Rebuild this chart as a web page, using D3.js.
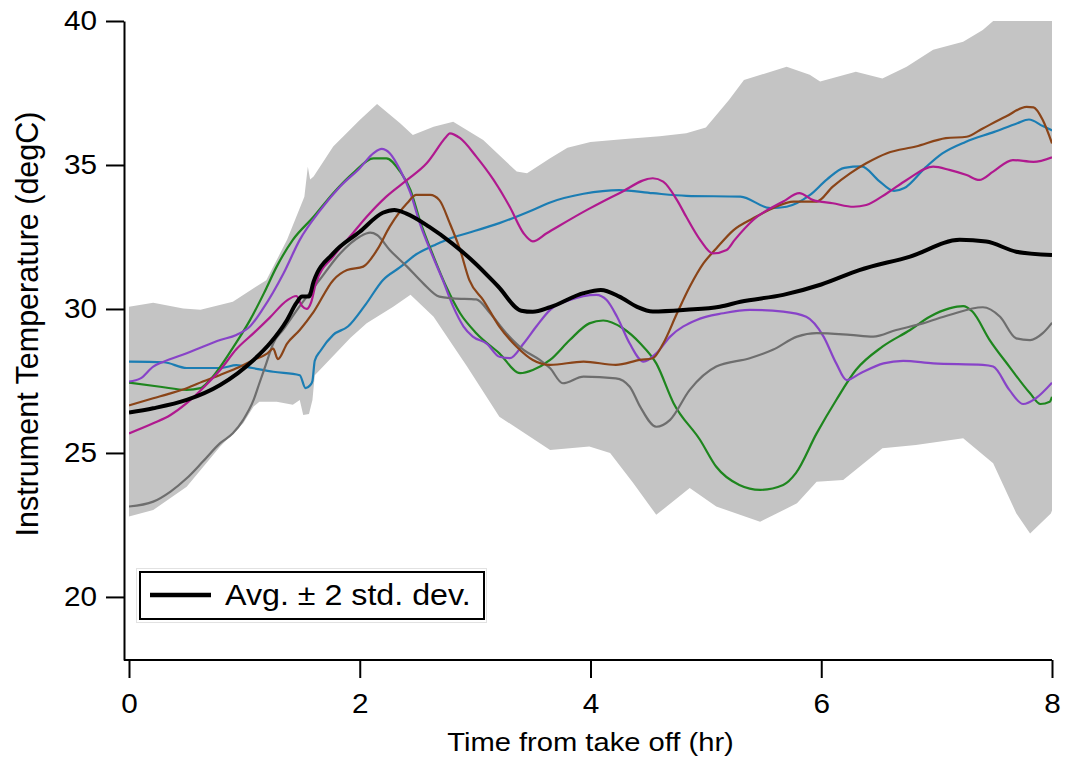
<!DOCTYPE html>
<html>
<head>
<meta charset="utf-8">
<script src="https://cdn.jsdelivr.net/npm/d3@7"></script>
<style>
  body { margin: 0; background: #fff; }
  svg text { font-family: "Liberation Sans", Arial, sans-serif; fill: #000; }
</style>
</head>
<body>
<svg id="chart" width="1065" height="763"></svg>
<script>
// ---- data (time in hr, temperature in degC) ----
const xTicks = [0, 2, 4, 6, 8];
const yTicks = [20, 25, 30, 35, 40];

const upperTime = [0,0.21,0.47,0.62,0.9,1.1,1.19,1.37,1.52,1.55,1.57,1.6,1.77,2.0,2.15,2.35,2.46,2.64,2.81,3.07,3.36,3.45,3.65,3.8,4.0,4.3,4.6,4.83,5.0,5.2,5.33,5.7,5.9,5.99,6.3,6.53,6.74,6.97,7.23,7.4,7.49,8];
const upperTemp = [30.08,30.22,30.02,29.97,30.25,30.77,31.0,32.4,33.9,34.94,34.5,34.6,35.64,36.56,37.12,36.45,36.04,36.33,36.5,35.87,34.77,34.71,35.23,35.6,35.8,35.9,36.0,36.1,36.3,37.26,37.95,38.41,38.13,37.9,38.24,38.0,38.41,39.0,39.28,39.69,40,40];

const lowerTime = [0,0.21,0.5,0.79,0.99,1.08,1.13,1.28,1.42,1.48,1.51,1.56,1.59,1.61,1.73,1.92,2.06,2.29,2.44,2.64,2.93,3.21,3.65,3.99,4.17,4.37,4.57,4.86,5.09,5.47,5.79,5.96,6.19,6.53,6.82,7.23,7.49,7.69,7.81,7.99,8];
const lowerTemp = [22.79,23.02,23.83,25.22,26.03,26.61,26.78,26.78,26.67,26.84,26.32,26.35,26.84,27.7,28.2,29.0,29.5,30.08,30.49,29.73,28.0,26.26,25.1,25.22,25.0,23.96,22.85,23.78,23.14,22.61,23.25,24.0,24.06,25.16,25.28,25.51,24.64,22.91,22.2,22.9,23.0];

const blueTime = [0,0.3,0.5,0.8,0.93,1.07,1.25,1.48,1.53,1.57,1.59,1.61,1.66,1.77,1.9,2.05,2.2,2.35,2.49,2.64,2.78,2.93,3.21,3.5,3.65,3.94,4.25,4.54,4.83,5.3,5.56,5.7,5.9,6.05,6.2,6.35,6.5,6.63,6.72,6.9,7.05,7.25,7.5,7.7,7.8,7.92,8];
const blueTemp = [28.17,28.15,27.95,27.95,28.05,27.95,27.82,27.7,27.25,27.35,27.5,28.2,28.55,29.1,29.4,30.15,31.0,31.45,31.9,32.2,32.45,32.63,32.98,33.44,33.7,34.0,34.13,34.02,33.93,33.9,33.5,33.55,33.95,34.5,34.9,34.95,34.45,34.1,34.2,34.9,35.4,35.8,36.15,36.45,36.58,36.35,36.2];

const greenTime = [0,0.27,0.5,0.62,0.7,0.9,1.05,1.17,1.28,1.42,1.6,1.77,1.94,2.12,2.23,2.35,2.44,2.52,2.64,2.75,2.87,3.01,3.21,3.39,3.5,3.65,3.82,3.99,4.11,4.28,4.43,4.57,4.72,4.95,5.09,5.29,5.47,5.67,5.78,5.96,6.13,6.3,6.53,6.77,6.94,7.11,7.23,7.31,7.46,7.63,7.81,7.9,7.98,8];
const greenTemp = [27.44,27.3,27.19,27.25,27.53,28.65,29.62,30.55,31.47,32.4,33.2,34.02,34.71,35.23,35.23,34.77,34.13,33.09,31.82,30.77,29.85,29.16,28.46,27.77,27.88,28.23,28.92,29.5,29.6,29.33,28.81,28.11,26.73,25.45,24.52,23.89,23.72,23.89,24.3,25.68,26.84,27.88,28.69,29.27,29.73,30.02,30.1,29.91,28.92,28.0,27.07,26.7,26.78,26.95];

const purpleTime = [0,0.1,0.21,0.3,0.5,0.64,0.79,0.93,1.05,1.16,1.34,1.48,1.66,1.83,2.0,2.12,2.19,2.26,2.35,2.44,2.52,2.61,2.72,2.81,2.9,2.98,3.1,3.21,3.3,3.42,3.53,3.65,3.82,4.05,4.14,4.23,4.34,4.46,4.57,4.69,4.92,5.15,5.38,5.67,5.87,6.02,6.13,6.22,6.34,6.54,6.71,6.97,7.4,7.49,7.63,7.75,7.86,8];
const purpleTemp = [27.48,27.59,28.0,28.17,28.46,28.69,28.92,29.1,29.4,30.0,31.24,32.4,33.44,34.25,34.89,35.41,35.56,35.41,34.83,34.02,32.98,32.05,31.0,30.08,29.39,29.04,28.8,28.34,28.29,28.8,29.39,29.97,30.31,30.49,30.31,29.73,28.8,28.17,28.46,29.04,29.62,29.85,29.97,29.91,29.73,29.04,28.11,27.53,27.77,28.11,28.2,28.11,28.06,28.0,27.19,26.7,26.9,27.44];

const magentaTime = [0,0.21,0.36,0.5,0.64,0.79,0.93,1.08,1.22,1.37,1.45,1.5,1.54,1.58,1.62,1.77,1.94,2.06,2.23,2.41,2.58,2.75,2.78,2.87,3.01,3.16,3.3,3.42,3.5,3.62,3.97,4.25,4.54,4.63,4.75,4.83,4.95,5.06,5.18,5.25,5.41,5.67,5.81,5.93,6.1,6.28,6.39,6.57,6.74,6.97,7.11,7.26,7.37,7.49,7.66,7.84,8];
const magentaTemp = [25.68,26.03,26.32,26.73,27.25,27.88,28.6,29.16,29.7,30.3,30.45,30.1,30.0,30.25,30.9,31.82,32.63,33.2,33.9,34.48,35.06,35.98,36.1,35.93,35.29,34.48,33.55,32.63,32.35,32.63,33.44,34.02,34.54,34.42,33.78,33.2,32.4,31.93,32.05,32.4,33.09,33.73,34.02,33.78,33.67,33.55,33.61,34.02,34.48,34.94,34.83,34.65,34.48,34.77,35.17,35.11,35.27];

const brownTime = [0,0.21,0.36,0.5,0.64,0.79,0.93,1.08,1.2,1.25,1.29,1.37,1.48,1.6,1.77,1.89,2.03,2.15,2.26,2.41,2.49,2.61,2.69,2.78,2.87,2.95,3.07,3.21,3.36,3.5,3.65,3.94,4.22,4.43,4.54,4.63,4.75,4.86,4.98,5.09,5.24,5.41,5.58,5.76,5.96,6.1,6.25,6.39,6.57,6.82,7.08,7.26,7.4,7.6,7.78,7.84,7.92,8];
const brownTemp = [26.65,26.9,27.07,27.25,27.48,27.71,27.94,28.23,28.46,28.62,28.26,28.8,29.27,29.9,31.0,31.35,31.47,32.05,32.86,33.67,33.96,33.96,33.78,32.98,32.05,31.0,30.31,29.39,28.69,28.23,28.06,28.17,28.06,28.23,28.29,28.8,29.85,30.77,31.59,32.1,32.74,33.15,33.5,33.73,33.73,34.25,34.71,35.06,35.41,35.64,35.93,35.98,36.27,36.68,37.02,37.0,36.56,35.75];

const grayTime = [0,0.21,0.36,0.5,0.64,0.79,0.9,0.99,1.08,1.13,1.19,1.25,1.34,1.48,1.65,1.83,2.0,2.09,2.15,2.26,2.41,2.55,2.69,2.81,3.01,3.13,3.27,3.42,3.56,3.65,3.76,3.94,4.22,4.34,4.43,4.57,4.69,4.86,5.09,5.38,5.58,5.79,5.96,6.25,6.45,6.65,6.88,7.11,7.4,7.55,7.69,7.81,7.92,8];
const grayTemp = [23.14,23.31,23.66,24.12,24.7,25.34,25.68,26.15,26.84,27.42,28.11,28.8,29.3,30.1,31.0,31.93,32.51,32.65,32.57,32.05,31.47,30.89,30.43,30.37,30.33,29.85,29.16,28.58,28.23,27.94,27.42,27.65,27.59,27.3,26.61,25.91,26.15,27.19,28.0,28.29,28.58,29.04,29.16,29.1,29.04,29.27,29.5,29.79,30.06,29.73,28.98,28.92,29.16,29.52];

const avgTime = [0,0.21,0.5,0.79,1.08,1.22,1.37,1.45,1.5,1.56,1.6,1.77,2.0,2.2,2.3,2.4,2.6,2.8,3.0,3.2,3.4,3.5,3.65,3.94,4.09,4.25,4.4,4.54,4.83,5.12,5.3,5.67,6.0,6.33,6.77,7.2,7.43,7.69,8];
const avgTemp = [26.4,26.55,26.84,27.36,28.23,28.8,29.62,30.2,30.43,30.43,30.95,31.93,32.68,33.34,33.44,33.32,32.86,32.28,31.59,30.78,29.94,29.9,30.06,30.55,30.66,30.43,30.08,29.91,29.97,30.08,30.25,30.49,30.85,31.35,31.82,32.4,32.34,31.99,31.87];

const flights = [
  { name: "blue",    color: "#1b7db3", time: blueTime,    temp: blueTemp },
  { name: "green",   color: "#1e861e", time: greenTime,   temp: greenTemp },
  { name: "purple",  color: "#8843c8", time: purpleTime,  temp: purpleTemp },
  { name: "gray",    color: "#6e6e6e", time: grayTime,    temp: grayTemp },
  { name: "brown",   color: "#8a4418", time: brownTime,   temp: brownTemp },
  { name: "magenta", color: "#b0198f", time: magentaTime, temp: magentaTemp }
];

// ---- layout ----
const chart = {};
chart.svg = d3.select("#chart");
chart.axisX = 124;      // position of the y axis line
chart.axisY = 660;      // position of the x axis line
chart.tick = 18;
chart.stretch = 1.1;    // horizontal text stretch seen in the figure

chart.x = d3.scaleLinear().domain([0, 8]).range([129, 1052]);
chart.y = d3.scaleLinear().domain([17.81, 40]).range([chart.axisY, 21]);

const pts = (t, v) => d3.zip(t, v);

//Clip everything to the plot box
chart.svg.append("clipPath").attr("id", "plotClip")
  .append("rect")
  .attr("x", chart.x(0)).attr("y", chart.y(40))
  .attr("width", chart.x(8) - chart.x(0))
  .attr("height", chart.y(17.81) - chart.y(40));

const plot = chart.svg.append("g").attr("clip-path", "url(#plotClip)");

//Shaded band: upper edge forward, lower edge back
const bandPts = pts(upperTime, upperTemp).concat(pts(lowerTime, lowerTemp).reverse());
plot.append("path")
  .attr("d", d3.line().x(d => chart.x(d[0])).y(d => chart.y(d[1]))(bandPts) + "Z")
  .attr("fill", "#c4c4c4")
  .attr("stroke", "none");

const line = d3.line()
  .x(d => chart.x(d[0]))
  .y(d => chart.y(d[1]))
  .curve(d3.curveMonotoneX);

plot.selectAll(".flight")
  .data(flights)
  .join("path")
  .attr("class", "flight")
  .attr("d", d => line(pts(d.time, d.temp)))
  .attr("fill", "none")
  .attr("stroke", d => d.color)
  .attr("stroke-width", 2.2)
  .attr("stroke-linejoin", "round");

plot.append("path")
  .attr("d", line(pts(avgTime, avgTemp)))
  .attr("fill", "none")
  .attr("stroke", "#000")
  .attr("stroke-width", 4)
  .attr("stroke-linejoin", "round");

// ---- axes ----
const yAxis = chart.svg.append("g")
  .attr("transform", `translate(${chart.axisX},0)`)
  .call(d3.axisLeft(chart.y).tickValues(yTicks).tickSize(chart.tick).tickSizeOuter(0));

yAxis.selectAll("text")
  .attr("x", -27 / chart.stretch)
  .attr("dy", "0.33em")
  .attr("transform", `scale(${chart.stretch},1)`)
  .style("font-size", "27px");

const xAxis = chart.svg.append("g")
  .attr("transform", `translate(0,${chart.axisY})`)
  .call(d3.axisBottom(chart.x).tickValues(xTicks).tickSize(chart.tick).tickPadding(16).tickSizeOuter(0));

xAxis.select(".domain").remove();
xAxis.append("line")
  .attr("x1", chart.axisX).attr("x2", chart.x(8))
  .attr("stroke", "#000");

xAxis.selectAll("text")
  .attr("transform", `scale(${chart.stretch},1)`)
  .style("font-size", "27px");

chart.svg.selectAll(".domain, .tick line, g > line")
  .attr("stroke", "#000")
  .attr("stroke-width", 2);
chart.svg.selectAll(".tick text").style("font-family", '"Liberation Sans", Arial, sans-serif');

//Axis titles
chart.svg.append("text")
  .attr("transform", `translate(${(chart.x(0) + chart.x(8)) / 2},751) scale(${chart.stretch},1)`)
  .attr("text-anchor", "middle")
  .style("font-size", "26.5px")
  .text("Time from take off (hr)");

chart.svg.append("text")
  .attr("transform", "translate(38,324) rotate(-90)")
  .attr("text-anchor", "middle")
  .style("font-size", "30.5px")
  .text("Instrument Temperature (degC)");

// ---- legend ----
const legend = chart.svg.append("g");
legend.append("rect")
  .attr("x", 136.5).attr("y", 568.5).attr("width", 350).attr("height", 54)
  .attr("fill", "none").attr("stroke", "#e2e2e2").attr("stroke-width", 1);
legend.append("rect")
  .attr("x", 140).attr("y", 572).attr("width", 344).attr("height", 47)
  .attr("fill", "#fff").attr("stroke", "#000").attr("stroke-width", 2);
legend.append("line")
  .attr("x1", 150).attr("x2", 211).attr("y1", 595).attr("y2", 595)
  .attr("stroke", "#000").attr("stroke-width", 4.5);
legend.append("text")
  .attr("transform", `translate(225,605) scale(${chart.stretch},1)`)
  .style("font-size", "29.3px")
  .text("Avg. \u00b1 2 std. dev.");
</script>
</body>
</html>
